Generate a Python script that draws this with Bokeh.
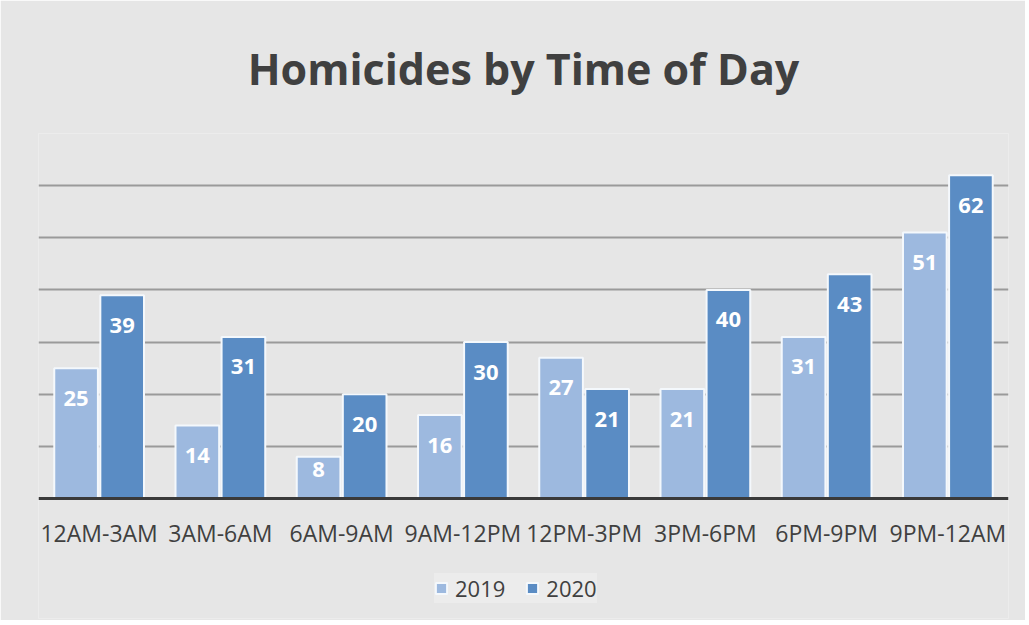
from bokeh.plotting import figure
from bokeh.models import ColumnDataSource, FixedTicker, Legend, LegendItem, Range1d, FactorRange
from bokeh.transform import dodge
from bokeh.core.properties import value
from bokeh.embed import file_html
from bokeh.resources import INLINE

categories = ["12AM-3AM", "3AM-6AM", "6AM-9AM", "9AM-12PM", "12PM-3PM", "3PM-6PM", "6PM-9PM", "9PM-12AM"]
vals_2019 = [25, 14, 8, 16, 27, 21, 31, 51]
vals_2020 = [39, 31, 20, 30, 21, 40, 43, 62]
grid_ticks = [0, 10, 20, 30, 40, 50, 60, 70]

c2019 = "#9db9df"
c2020 = "#5a8cc4"
bg = "#e6e6e6"

def off(vs):
    return [30 if v >= 12 else 13 for v in vs]

src = ColumnDataSource(dict(cat=categories, v19=vals_2019, v20=vals_2020,
                            t19=[str(v) for v in vals_2019], t20=[str(v) for v in vals_2020],
                            o19=off(vals_2019), o20=off(vals_2020)))

p = figure(x_range=FactorRange(*categories, range_padding=0), y_range=Range1d(-23, 70),
           frame_width=970, frame_height=485, output_backend="svg", toolbar_location=None,
           min_border_left=38, min_border_right=17, min_border_top=133, min_border_bottom=2,
           background_fill_color=bg, border_fill_color=bg, outline_line_color=None,
           title="Homicides by Time of Day")

p.title.align = "center"
p.title.vertical_align = "bottom"
p.title.standoff = 72
p.title.text_font = "Open Sans"
p.title.text_font_size = "43px"
p.title.text_font_style = "bold"
p.title.text_color = "#404040"

r1 = p.vbar(x=dodge("cat", -0.19, range=p.x_range), top="v19", width=0.36, source=src,
            fill_color=c2019, line_color="#f4f8fc", line_width=2)
r2 = p.vbar(x=dodge("cat", 0.19, range=p.x_range), top="v20", width=0.36, source=src,
            fill_color=c2020, line_color="#f4f8fc", line_width=2)

p.text(x=dodge("cat", -0.19, range=p.x_range), y="v19", text="t19", y_offset="o19", source=src,
       text_align="center", text_baseline="middle", text_color="white",
       text_font=value("Open Sans"), text_font_style="bold", text_font_size="22px")
p.text(x=dodge("cat", 0.19, range=p.x_range), y="v20", text="t20", y_offset="o20", source=src,
       text_align="center", text_baseline="middle", text_color="white",
       text_font=value("Open Sans"), text_font_style="bold", text_font_size="22px")

p.yaxis.visible = False
p.ygrid.ticker = FixedTicker(ticks=grid_ticks[1:-1])
p.ygrid.grid_line_color = "#9a9a9a"
p.ygrid.grid_line_width = 2
p.xgrid.grid_line_color = None

p.xaxis.fixed_location = 0
p.xaxis.axis_line_color = "#3a3a3a"
p.xaxis.axis_line_width = 3
p.xaxis.major_tick_line_color = None
p.xaxis.minor_tick_line_color = None
p.xaxis.major_label_text_font = "Open Sans"
p.xaxis.major_label_text_font_size = "23px"
p.xaxis.major_label_text_color = "#404040"
p.xaxis.major_label_standoff = 12

legend = Legend(items=[LegendItem(label="2019", renderers=[r1]), LegendItem(label="2020", renderers=[r2])],
                orientation="horizontal", location=(396, 15),
                background_fill_color="#ececec", background_fill_alpha=1.0,
                border_line_color=None, label_text_font="Open Sans", label_text_font_size="22px",
                label_text_color="#404040", glyph_width=14, glyph_height=14,
                spacing=20, label_standoff=7, margin=0, padding=12)
p.add_layout(legend, "center")

open("out.html", "w").write(file_html(p, INLINE))
